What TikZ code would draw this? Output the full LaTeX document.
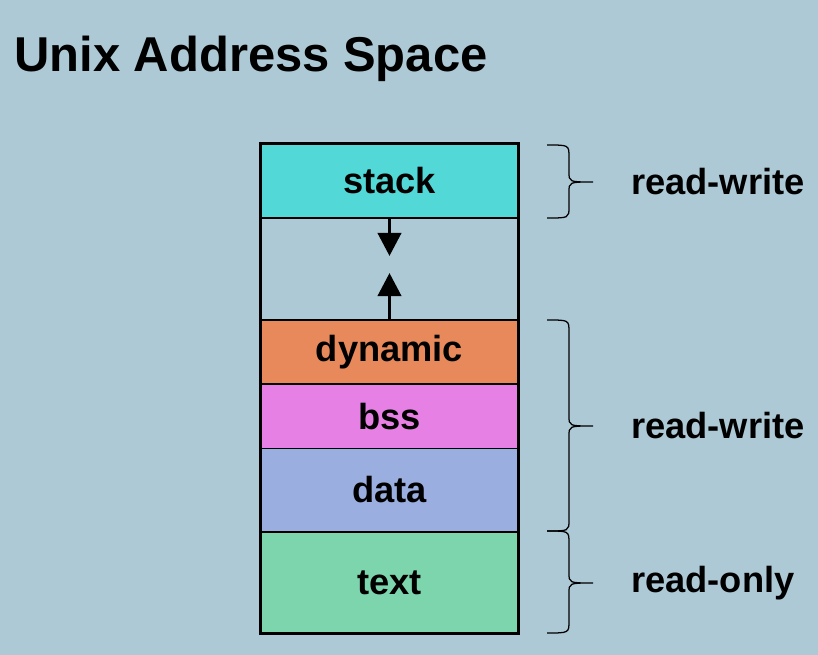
\documentclass[tikz,border=0pt]{standalone}
\usepackage{fontspec}
\setmainfont{Liberation Sans}
\usetikzlibrary{arrows.meta}

\definecolor{bgblue}{HTML}{ADC9D5}
\definecolor{stackcol}{HTML}{53D8D8}
\definecolor{dyncol}{HTML}{E8895B}
\definecolor{bsscol}{HTML}{E680E4}
\definecolor{datacol}{HTML}{9AAEDF}
\definecolor{textcol}{HTML}{7DD5AD}

\tikzset{
	seg/.style={draw,rectangle,line width=1pt,inner sep=0pt,minimum width=6.425cm,
		font=\fontsize{25.8}{30}\selectfont\bfseries},
	brace/.style={line width=0.9pt},
	growarrow/.style={-{Triangle[length=0.58cm,width=0.58cm]},line width=2.8pt},
	rwlabel/.style={anchor=west,inner sep=0pt,font=\fontsize{25.8}{30}\selectfont\bfseries}
}

\begin{document}
\begin{tikzpicture}[x=0.025cm,y=-0.025cm]
		\fill [bgblue] (0,0) rectangle (818,655);
		\useasboundingbox (0,0) rectangle (818,655);
		\node [anchor=base west,inner sep=0pt,font=\fontsize{34.8}{42}\selectfont\bfseries] (title) at (14,72) {Unix Address Space};
		% segments of the address space
		\node [seg,fill=stackcol,minimum height=1.85cm] (stack) at (389.5,181) {stack};
		\node [seg,fill=dyncol,minimum height=1.6cm] (dynamic) at (389.5,352) {dynamic};
		\node [seg,fill=bsscol,minimum height=1.625cm] (bss) at (389.5,416.5) {bss};
		\node [seg,fill=datacol,minimum height=2.075cm] (data) at (389.5,490) {data};
		\node [seg,fill=textcol,minimum height=2.525cm] (text) at (389.5,582.5) {text};
		\draw [line width=2.2pt] (stack.north west) rectangle (text.south east);
		% growth arrows
		\coordinate (downtip) at (389.5,256);
		\coordinate (uptip) at (389.5,273);
		\draw [growarrow] (stack.south) -- (downtip);
		\draw [growarrow] (dynamic.north) -- (uptip);
		% braces
		\draw [brace] (547,145) .. controls (569,145) .. (569,157) -- (569,172) .. controls (569,182) .. (593,182) .. controls (569,182) .. (569,192) -- (569,207) .. controls (569,218) .. (547,218);
		\draw [brace] (547,320) .. controls (569,320) .. (569,332) -- (569,416) .. controls (569,426) .. (593,426) .. controls (569,426) .. (569,436) -- (569,520) .. controls (569,531) .. (547,531);
		\draw [brace] (547,531) .. controls (569,531) .. (569,543) -- (569,573) .. controls (569,583) .. (593,583) .. controls (569,583) .. (569,593) -- (569,621) .. controls (569,633) .. (547,633);
		% access labels
		\node [rwlabel] (rwtop) at (631,182) {read-write};
		\node [rwlabel] (rwmid) at (631,426) {read-write};
		\node [rwlabel] (ro) at (631,583) {read-only};
	\end{tikzpicture}
\end{document}
